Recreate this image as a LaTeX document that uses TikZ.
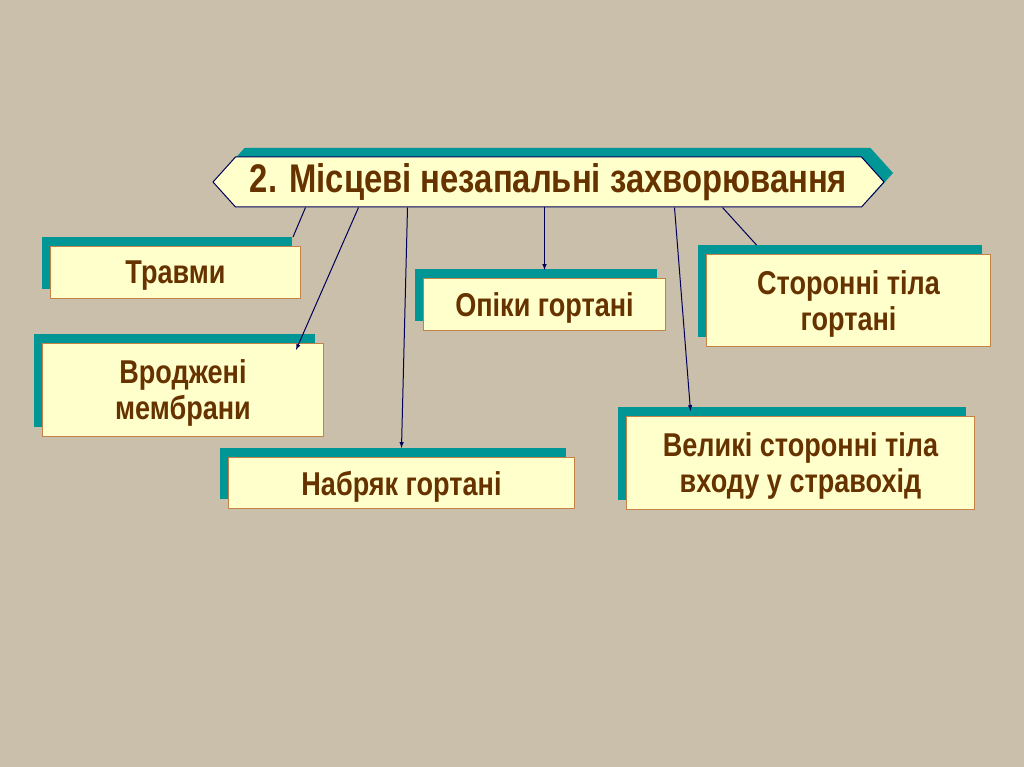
\documentclass[tikz,border=0pt]{standalone}
\usepackage{fontspec}
\setmainfont{Liberation Sans}[FakeStretch=0.82]
\usetikzlibrary{shapes.symbols,shadows}

\definecolor{bgbeige}{RGB}{201,191,170}
\definecolor{boxfill}{RGB}{255,255,204}
\definecolor{boxline}{RGB}{196,130,70}
\definecolor{textbrown}{RGB}{102,51,0}
\definecolor{shadowteal}{RGB}{0,150,150}
\definecolor{linknavy}{RGB}{0,0,90}

\begin{document}
\begin{tikzpicture}[x=1pt, y=-1pt, >=latex]
  \tikzset{
    item_box/.style={rectangle, fill=boxfill, draw=boxline, line width=1pt,
      text=textbrown, font=\bfseries\fontsize{33}{36}\selectfont, align=center,
      inner sep=0pt, anchor=north west, text depth=0pt,
      drop shadow={shadow xshift=-8.5pt, shadow yshift=9.5pt, fill=shadowteal, opacity=1}},
    title_box/.style={signal, signal to=west and east, signal pointer angle=96,
      fill=boxfill, draw=linknavy, line width=1pt, text=textbrown,
      font=\bfseries\fontsize{40}{44}\selectfont, inner sep=0pt,
      minimum width=671pt, minimum height=50pt,
      drop shadow={shadow xshift=9pt, shadow yshift=9pt, fill=shadowteal, opacity=1}},
    link/.style={draw=linknavy, line width=1pt}
  }

  % Fondo
  \useasboundingbox (0,0) rectangle (1024,767);
  \fill[bgbeige] (0,0) rectangle (1024,767);

  % Cajas
  \node[item_box, minimum width=250pt, minimum height=52pt] (travmy) at (50,246) {Травми};
  \node[item_box, minimum width=281pt, minimum height=93pt] (membrany) at (42,343) {Вроджені\\мембрани};
  \node[item_box, minimum width=346pt, minimum height=51pt] (nabriak) at (228,457) {Набряк гортані};
  \node[item_box, minimum width=242pt, minimum height=52pt] (opiky) at (423,278) {Опіки гортані};
  \node[item_box, minimum width=284pt, minimum height=92pt] (storonni) at (706,254) {Сторонні тіла\\гортані};
  \node[item_box, minimum width=348pt, minimum height=93pt] (velyki) at (626,416) {Великі сторонні тіла\\входу у стравохід};

  % Título
  \node[title_box] (title) at (548.5,182) {2. Місцеві незапальні захворювання};

  % Conexiones
  \draw[link] ([xshift=-243pt]title.south) -- ([xshift=-8pt, yshift=9pt]travmy.north east);
  \draw[link, ->] ([xshift=-190pt]title.south) -- ([xshift=-28pt, yshift=-7pt]membrany.north east);
  \draw[link, ->] ([xshift=-141pt]title.south) -- ([yshift=9pt]nabriak.north);
  \draw[link, ->] (title.south -| opiky.north) -- ([yshift=8pt]opiky.north);
  \draw[link, ->] ([xshift=126pt]title.south) -- ([xshift=-110pt, yshift=5pt]velyki.north);
  \draw[link] ([xshift=174pt]title.south) -- ([xshift=-92pt, yshift=9pt]storonni.north);
\end{tikzpicture}
\end{document}
